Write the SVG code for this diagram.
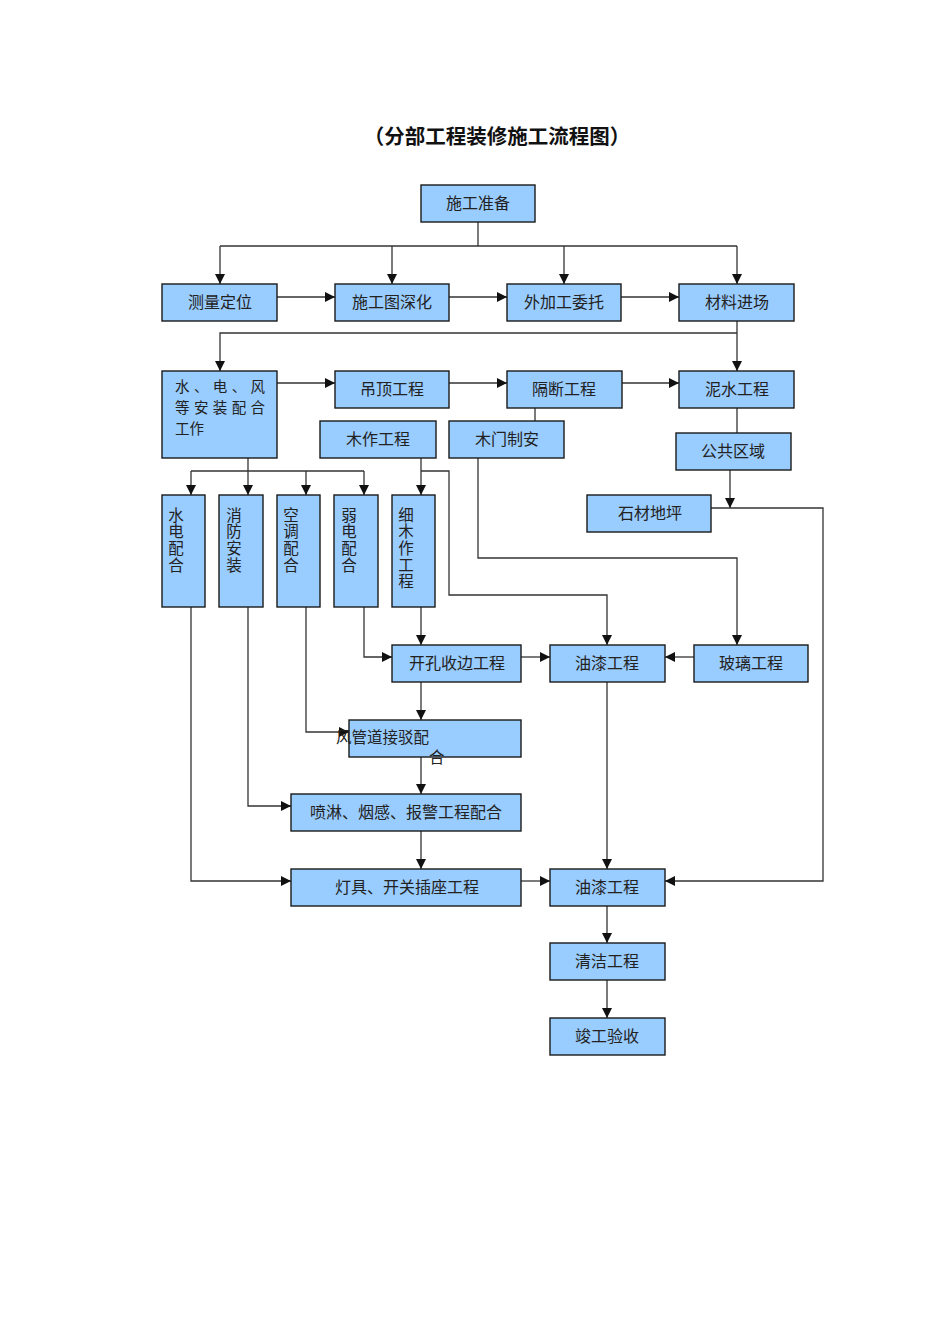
<svg xmlns="http://www.w3.org/2000/svg" width="950" height="1344" viewBox="0 0 950 1344">
<style>
.box{fill:#99ccff;stroke:#1a1a1a;stroke-width:1.4}
.t{font-family:"Noto Sans CJK SC","Liberation Sans",sans-serif;font-size:16px;fill:#222;text-anchor:middle}
.tl{font-family:"Noto Sans CJK SC","Liberation Sans",sans-serif;font-size:15.5px;fill:#222}
.tm{font-family:"Noto Sans CJK SC","Liberation Sans",sans-serif;font-size:14.5px;fill:#222}
.tv{font-family:"Noto Sans CJK SC","Liberation Sans",sans-serif;font-size:15.5px;fill:#222;writing-mode:vertical-rl;letter-spacing:1.2px}
.c{fill:none;stroke:#333;stroke-width:1.3}
.title{font-family:"Noto Sans CJK SC","Liberation Sans",sans-serif;font-size:20.5px;font-weight:bold;fill:#111;text-anchor:middle}
</style>
<defs>
<marker id="ah" markerWidth="10" markerHeight="10" viewBox="0 0 10 10" refX="10" refY="5" orient="auto" markerUnits="userSpaceOnUse">
<path d="M0,0 L10,5 L0,10 z" fill="#111"/>
</marker>
</defs>
<rect width="950" height="1344" fill="#fff"/>
<text class="title" x="497" y="144">（分部工程装修施工流程图）</text>

<g id="connectors">
<path class="c" d="M478 222 V246"/>
<path class="c" d="M220 246 H737"/>
<path class="c" d="M220 246 V284" marker-end="url(#ah)"/>
<path class="c" d="M392 246 V284" marker-end="url(#ah)"/>
<path class="c" d="M564 246 V284" marker-end="url(#ah)"/>
<path class="c" d="M737 246 V284" marker-end="url(#ah)"/>
<path class="c" d="M277 297 H335" marker-end="url(#ah)"/>
<path class="c" d="M449 297 H507" marker-end="url(#ah)"/>
<path class="c" d="M621 297 H679" marker-end="url(#ah)"/>
<path class="c" d="M737 321 V371" marker-end="url(#ah)"/>
<path class="c" d="M737 333 H220 V371" marker-end="url(#ah)"/>
<path class="c" d="M277 383 H335" marker-end="url(#ah)"/>
<path class="c" d="M449 383 H507" marker-end="url(#ah)"/>
<path class="c" d="M622 383 H679" marker-end="url(#ah)"/>
<path class="c" d="M535 408 V421"/>
<path class="c" d="M737 408 V433"/>
<path class="c" d="M730 470 V508" marker-end="url(#ah)"/>
<path class="c" d="M711 508 H823 V881 H665" marker-end="url(#ah)"/>
<path class="c" d="M248 421 V495" marker-end="url(#ah)"/>
<path class="c" d="M191 471 H364"/>
<path class="c" d="M191 471 V495" marker-end="url(#ah)"/>
<path class="c" d="M306 471 V495" marker-end="url(#ah)"/>
<path class="c" d="M364 471 V495" marker-end="url(#ah)"/>
<path class="c" d="M421 458 V495" marker-end="url(#ah)"/>
<path class="c" d="M421 471 H449 V595 H607 V645" marker-end="url(#ah)"/>
<path class="c" d="M478 458 V558 H737 V645" marker-end="url(#ah)"/>
<path class="c" d="M364 607 V657 H392" marker-end="url(#ah)"/>
<path class="c" d="M421 607 V645" marker-end="url(#ah)"/>
<path class="c" d="M521 657 H550" marker-end="url(#ah)"/>
<path class="c" d="M694 657 H665" marker-end="url(#ah)"/>
<path class="c" d="M306 607 V732 H349" marker-end="url(#ah)"/>
<path class="c" d="M421 682 V720" marker-end="url(#ah)"/>
<path class="c" d="M421 757 V794" marker-end="url(#ah)"/>
<path class="c" d="M248 607 V806 H291" marker-end="url(#ah)"/>
<path class="c" d="M421 831 V869" marker-end="url(#ah)"/>
<path class="c" d="M191 607 V881 H291" marker-end="url(#ah)"/>
<path class="c" d="M521 881 H550" marker-end="url(#ah)"/>
<path class="c" d="M607 682 V869" marker-end="url(#ah)"/>
<path class="c" d="M607 906 V943" marker-end="url(#ah)"/>
<path class="c" d="M607 980 V1018" marker-end="url(#ah)"/>
</g>

<g id="n_prep"><rect class="box" x="421" y="185" width="114" height="37"/><text class="t" x="478" y="209">施工准备</text></g>
<g id="n_measure"><rect class="box" x="162" y="284" width="115" height="37"/><text class="t" x="220" y="308">测量定位</text></g>
<g id="n_drawing"><rect class="box" x="335" y="284" width="114" height="37"/><text class="t" x="392" y="308">施工图深化</text></g>
<g id="n_outsource"><rect class="box" x="507" y="284" width="114" height="37"/><text class="t" x="564" y="308">外加工委托</text></g>
<g id="n_material"><rect class="box" x="679" y="284" width="115" height="37"/><text class="t" x="737" y="308">材料进场</text></g>

<g id="n_mep"><rect class="box" x="162" y="371" width="115" height="87"/>
<text class="tm" x="175" y="392" letter-spacing="4.4">水、电、风</text>
<text class="tm" x="175" y="413" letter-spacing="4.4">等安装配合</text>
<text class="tm" x="175" y="434">工作</text></g>
<g id="n_ceiling"><rect class="box" x="335" y="371" width="114" height="37"/><text class="t" x="392" y="395">吊顶工程</text></g>
<g id="n_partition"><rect class="box" x="507" y="371" width="115" height="37"/><text class="t" x="564" y="395">隔断工程</text></g>
<g id="n_masonry"><rect class="box" x="679" y="371" width="115" height="37"/><text class="t" x="737" y="395">泥水工程</text></g>
<g id="n_wood"><rect class="box" x="320" y="421" width="116" height="37"/><text class="t" x="378" y="445">木作工程</text></g>
<g id="n_door"><rect class="box" x="449" y="421" width="115" height="37"/><text class="t" x="507" y="445">木门制安</text></g>
<g id="n_public"><rect class="box" x="676" y="433" width="115" height="37"/><text class="t" x="733" y="457">公共区域</text></g>
<g id="n_stone"><rect class="box" x="587" y="495" width="124" height="37"/><text class="t" x="650" y="519">石材地坪</text></g>

<g id="n_water"><rect class="box" x="162" y="495" width="43" height="112"/><text class="tv" x="176" y="507">水电配合</text></g>
<g id="n_fire"><rect class="box" x="219" y="495" width="44" height="112"/><text class="tv" x="234" y="507">消防安装</text></g>
<g id="n_ac"><rect class="box" x="277" y="495" width="43" height="112"/><text class="tv" x="291" y="507">空调配合</text></g>
<g id="n_weak"><rect class="box" x="334" y="495" width="44" height="112"/><text class="tv" x="349" y="507">弱电配合</text></g>
<g id="n_finewood"><rect class="box" x="392" y="495" width="43" height="112"/><text class="tv" x="406" y="507">细木作工程</text></g>

<g id="n_holes"><rect class="box" x="392" y="645" width="129" height="37"/><text class="t" x="457" y="669">开孔收边工程</text></g>
<g id="n_paint1"><rect class="box" x="550" y="645" width="115" height="37"/><text class="t" x="607" y="669">油漆工程</text></g>
<g id="n_glass"><rect class="box" x="694" y="645" width="114" height="37"/><text class="t" x="751" y="669">玻璃工程</text></g>
<g id="n_duct"><rect class="box" x="349" y="720" width="172" height="37"/>
<text class="tl" x="336" y="743">风管道接驳配</text>
<text class="tl" x="429" y="763">合</text></g>
<g id="n_sprinkler"><rect class="box" x="291" y="794" width="230" height="37"/><text class="t" x="406" y="818">喷淋、烟感、报警工程配合</text></g>
<g id="n_lights"><rect class="box" x="291" y="869" width="230" height="37"/><text class="t" x="407" y="893">灯具、开关插座工程</text></g>
<g id="n_paint2"><rect class="box" x="550" y="869" width="115" height="37"/><text class="t" x="607" y="893">油漆工程</text></g>
<g id="n_clean"><rect class="box" x="550" y="943" width="115" height="37"/><text class="t" x="607" y="967">清洁工程</text></g>
<g id="n_accept"><rect class="box" x="550" y="1018" width="115" height="37"/><text class="t" x="607" y="1042">竣工验收</text></g>
</svg>
